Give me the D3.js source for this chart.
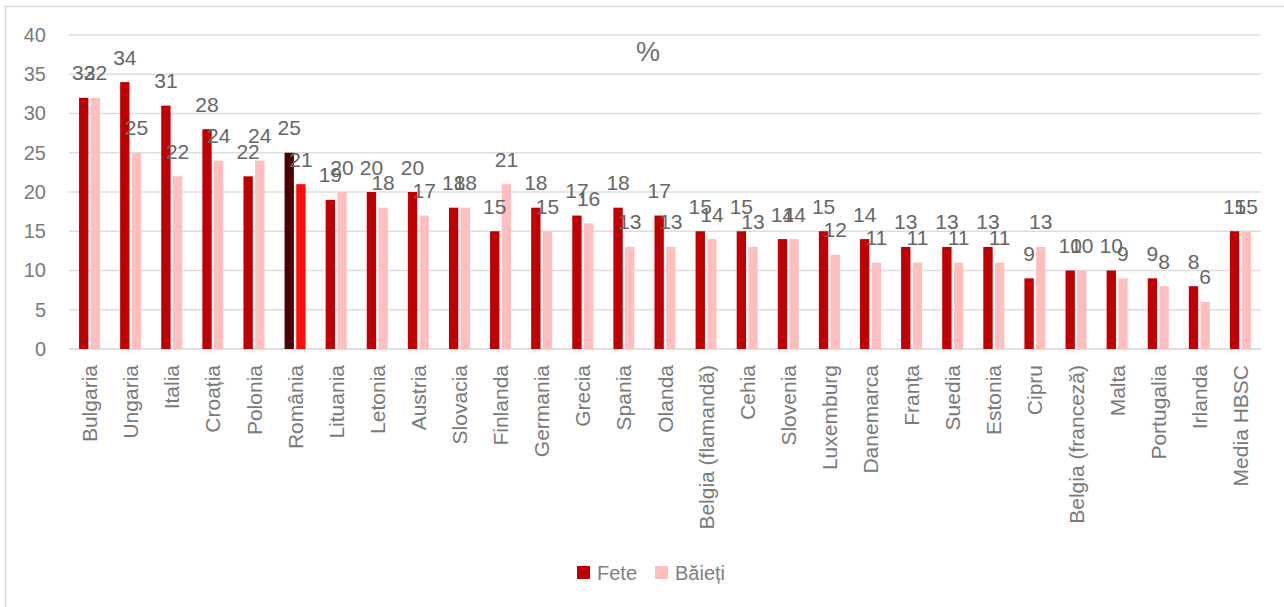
<!DOCTYPE html>
<html>
<head>
<meta charset="utf-8">
<script src="https://cdn.jsdelivr.net/npm/d3@7"></script>
<style>
  html, body { margin: 0; padding: 0; background: #fff; }
  svg { display: block; font-family: "Liberation Sans", Arial, sans-serif; }
</style>
</head>
<body>
<svg id="chart" width="1284" height="607"></svg>
<script>
// Share of adolescents, by country and gender (%)
const categories = ["Bulgaria", "Ungaria", "Italia", "Croația", "Polonia", "România", "Lituania",
  "Letonia", "Austria", "Slovacia", "Finlanda", "Germania", "Grecia", "Spania", "Olanda",
  "Belgia (flamandă)", "Cehia", "Slovenia", "Luxemburg", "Danemarca", "Franța", "Suedia",
  "Estonia", "Cipru", "Belgia (franceză)", "Malta", "Portugalia", "Irlanda", "Media HBSC"];
const fete   = [32, 34, 31, 28, 22, 25, 19, 20, 20, 18, 15, 18, 17, 18, 17, 15, 15, 14, 15, 14, 13, 13, 13, 9, 10, 10, 9, 8, 15];
const baieti = [32, 25, 22, 24, 24, 21, 20, 18, 17, 18, 21, 15, 16, 13, 13, 14, 13, 14, 12, 11, 11, 11, 11, 13, 10, 9, 8, 6, 15];
const seriesNames = ["Fete", "Băieți"];
const yTicks = [0, 5, 10, 15, 20, 25, 30, 35, 40];
const highlighted = "România";

const colors = { "Fete": "#c00000", "Băieți": "#ffbfbf" };
const highlightColors = { "Fete": "#4d0000", "Băieți": "#ff0d0d" };

const svg = d3.select("#chart");

// outer chart frame
svg.append("rect")
  .attr("x", 5.5).attr("y", 6.5)
  .attr("width", 1300).attr("height", 620)
  .attr("fill", "none").attr("stroke", "#d9d9d9").attr("stroke-width", 1.5);

const plotLeft = 69, plotRight = 1261, plotTop = 35, plotBottom = 349;

const x = d3.scaleBand().domain(categories).range([plotLeft, plotRight]).padding(0);
const x1 = d3.scaleBand().domain(seriesNames).range([0, x.bandwidth()])
  .paddingInner(0.2).paddingOuter(0.86);
const y = d3.scaleLinear().domain([0, 40]).range([plotBottom, plotTop]);

// gridlines
svg.append("g")
  .selectAll("line")
  .data(yTicks)
  .join("line")
  .attr("x1", plotLeft).attr("x2", plotRight)
  .attr("y1", d => y(d)).attr("y2", d => y(d))
  .attr("stroke", d => d === 0 ? "#d4d4d4" : "#dedede")
  .attr("stroke-width", 1.5);

// y axis labels
const yAxis = d3.axisLeft(y).tickValues(yTicks).tickSize(0).tickPadding(0);
const gy = svg.append("g").attr("transform", `translate(46,0)`).call(yAxis);
gy.select(".domain").remove();
gy.selectAll("text")
  .attr("font-size", 20)
  .attr("fill", "#7a7a7a")
  .attr("font-family", "Liberation Sans, Arial, sans-serif");

// x axis labels, rotated
const xAxis = d3.axisBottom(x).tickSize(0).tickPadding(0);
const gx = svg.append("g").attr("transform", `translate(0,${plotBottom})`).call(xAxis);
gx.select(".domain").remove();
gx.selectAll("text")
  .attr("font-size", 21)
  .attr("fill", "#7a7a7a")
  .attr("font-family", "Liberation Sans, Arial, sans-serif")
  .attr("text-anchor", "end")
  .attr("transform", "rotate(-90)")
  .attr("x", -16)
  .attr("y", 0)
  .attr("dy", "0.36em");

// bars
const rows = categories.map((c, i) => ({ cat: c, values: [
  { s: "Fete", v: fete[i] }, { s: "Băieți", v: baieti[i] }
]}));

const groups = svg.append("g").selectAll("g")
  .data(rows)
  .join("g")
  .attr("transform", d => `translate(${x(d.cat)},0)`);

groups.selectAll("rect")
  .data(d => d.values.map(v => ({ ...v, cat: d.cat })))
  .join("rect")
  .attr("x", d => x1(d.s))
  .attr("width", x1.bandwidth())
  .attr("y", d => y(d.v))
  .attr("height", d => y(0) - y(d.v))
  .attr("fill", d => d.cat === highlighted ? highlightColors[d.s] : colors[d.s]);

// value labels above each bar
groups.selectAll("text")
  .data(d => d.values.map(v => ({ ...v, cat: d.cat })))
  .join("text")
  .attr("x", d => x1(d.s) + x1.bandwidth() / 2)
  .attr("y", d => y(d.v) - 17.5)
  .attr("text-anchor", "middle")
  .attr("font-size", 21)
  .attr("fill", "#666666")
  .text(d => d.v);

// title
svg.append("text")
  .attr("x", 648).attr("y", 61)
  .attr("text-anchor", "middle")
  .attr("font-size", 27)
  .attr("fill", "#707070")
  .text("%");

// legend
const legendItems = [{ s: "Fete", x: 577 }, { s: "Băieți", x: 655 }];
const lg = svg.append("g").selectAll("g").data(legendItems).join("g")
  .attr("transform", d => `translate(${d.x},566)`);
lg.append("rect").attr("width", 13).attr("height", 13).attr("fill", d => colors[d.s]);
lg.append("text")
  .attr("x", 20).attr("y", 14)
  .attr("font-size", 20)
  .attr("fill", "#808080")
  .text(d => d.s);
</script>
</body>
</html>
